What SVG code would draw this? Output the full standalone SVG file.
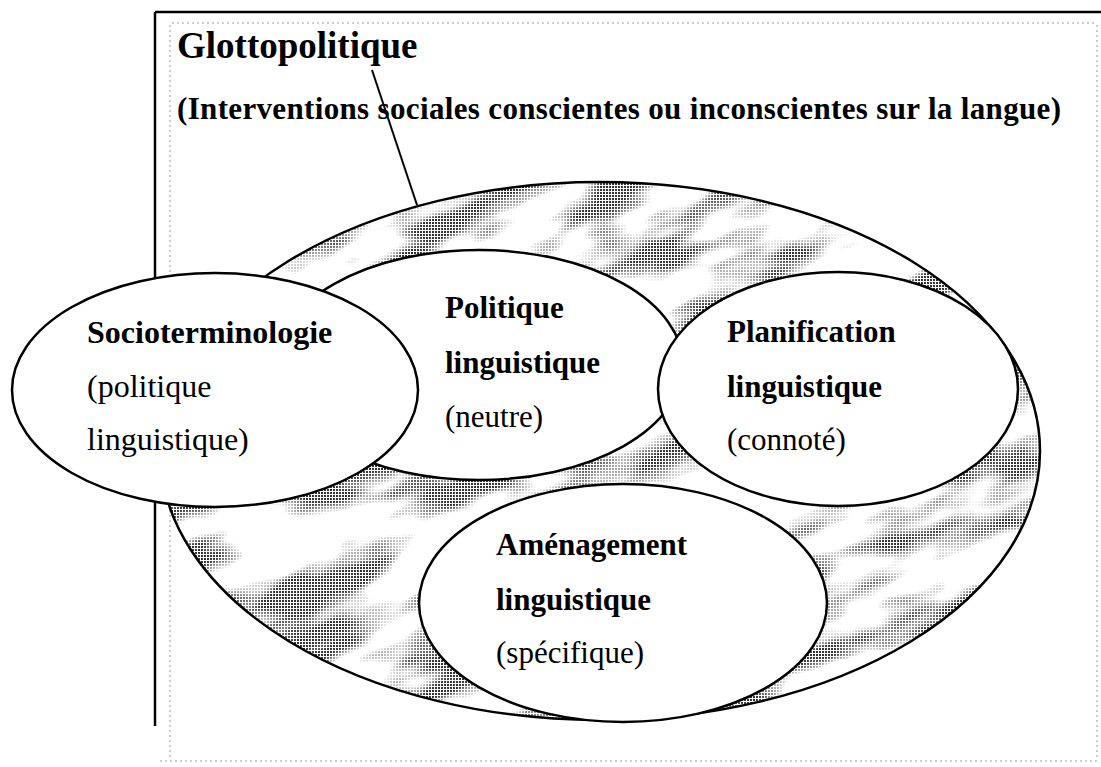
<svg xmlns="http://www.w3.org/2000/svg" width="1101" height="767" viewBox="0 0 1101 767">
<style>
.t{font-family:"Liberation Serif","Times New Roman",serif;fill:#000}
.b{font-weight:bold}
.node{fill:#fff;stroke:#000;stroke-width:2.5}
.dot{fill:none;stroke:#999;stroke-width:1;stroke-dasharray:2 3}
</style>
<defs>
<pattern id="dots" width="3" height="3" patternUnits="userSpaceOnUse">
<rect width="2" height="2" fill="#333"/>
</pattern>
<filter id="noise" x="0" y="0" width="1" height="1" filterUnits="objectBoundingBox" color-interpolation-filters="sRGB">
<feTurbulence type="fractalNoise" baseFrequency="0.009 0.024" numOctaves="3" seed="11"/>
<feColorMatrix type="matrix" values="4.5 0 0 0 -2.05  4.5 0 0 0 -2.05  4.5 0 0 0 -2.05  0 0 0 0 1"/>
</filter>
<mask id="mottle" maskUnits="userSpaceOnUse" x="0" y="0" width="1101" height="767">
<rect x="-100" y="-100" width="1400" height="1000" fill="#fff" filter="url(#noise)" transform="rotate(-20 600 450)"/>
</mask>
</defs>
<rect width="1101" height="767" fill="#fff"/>
<g id="frame">
<line x1="155" y1="12" x2="1101" y2="12" stroke="#000" stroke-width="2.5"/>
<line x1="155" y1="12" x2="155" y2="726" stroke="#000" stroke-width="2.5"/>
<line class="dot" x1="172" y1="23" x2="1095" y2="23"/>
<line class="dot" x1="170" y1="25" x2="170" y2="760"/>
<line class="dot" x1="1097" y1="25" x2="1097" y2="760"/>
<line class="dot" x1="160" y1="761" x2="1097" y2="761"/>
</g>
<g id="glottopolitique">
<ellipse cx="600" cy="451" rx="440" ry="269" fill="#fff"/>
<ellipse cx="600" cy="451" rx="440" ry="269" fill="url(#dots)" mask="url(#mottle)"/>
<ellipse cx="600" cy="451" rx="440" ry="269" fill="none" stroke="#000" stroke-width="2.5"/>
<text class="t b" x="177" y="58" font-size="37">Glottopolitique</text>
<text class="t b" x="177" y="119" font-size="31" textLength="884">(Interventions sociales conscientes ou inconscientes sur la langue)</text>
</g>
<g id="connectors">
<line x1="372" y1="70" x2="417" y2="205" stroke="#000" stroke-width="2"/>
</g>
<g id="node-politique">
<ellipse class="node" cx="479" cy="365" rx="204" ry="115"/>
<text class="t b" x="445" y="318" font-size="31">Politique</text>
<text class="t b" x="445" y="373" font-size="31">linguistique</text>
<text class="t" x="445" y="427" font-size="31">(neutre)</text>
</g>
<g id="node-amenagement">
<ellipse class="node" cx="623" cy="603" rx="204" ry="119"/>
<text class="t b" x="496" y="555" font-size="31">Aménagement</text>
<text class="t b" x="496" y="610" font-size="31">linguistique</text>
<text class="t" x="496" y="663" font-size="31">(spécifique)</text>
</g>
<g id="node-planification">
<ellipse class="node" cx="838" cy="389" rx="180" ry="117"/>
<text class="t b" x="727" y="342" font-size="31">Planification</text>
<text class="t b" x="727" y="397" font-size="31">linguistique</text>
<text class="t" x="727" y="450" font-size="31">(connoté)</text>
</g>
<g id="node-socioterminologie">
<ellipse class="node" cx="215" cy="390" rx="203" ry="117"/>
<text class="t b" x="87" y="343" font-size="32">Socioterminologie</text>
<text class="t" x="87" y="397" font-size="32">(politique</text>
<text class="t" x="87" y="450" font-size="32">linguistique)</text>
</g>
</svg>
